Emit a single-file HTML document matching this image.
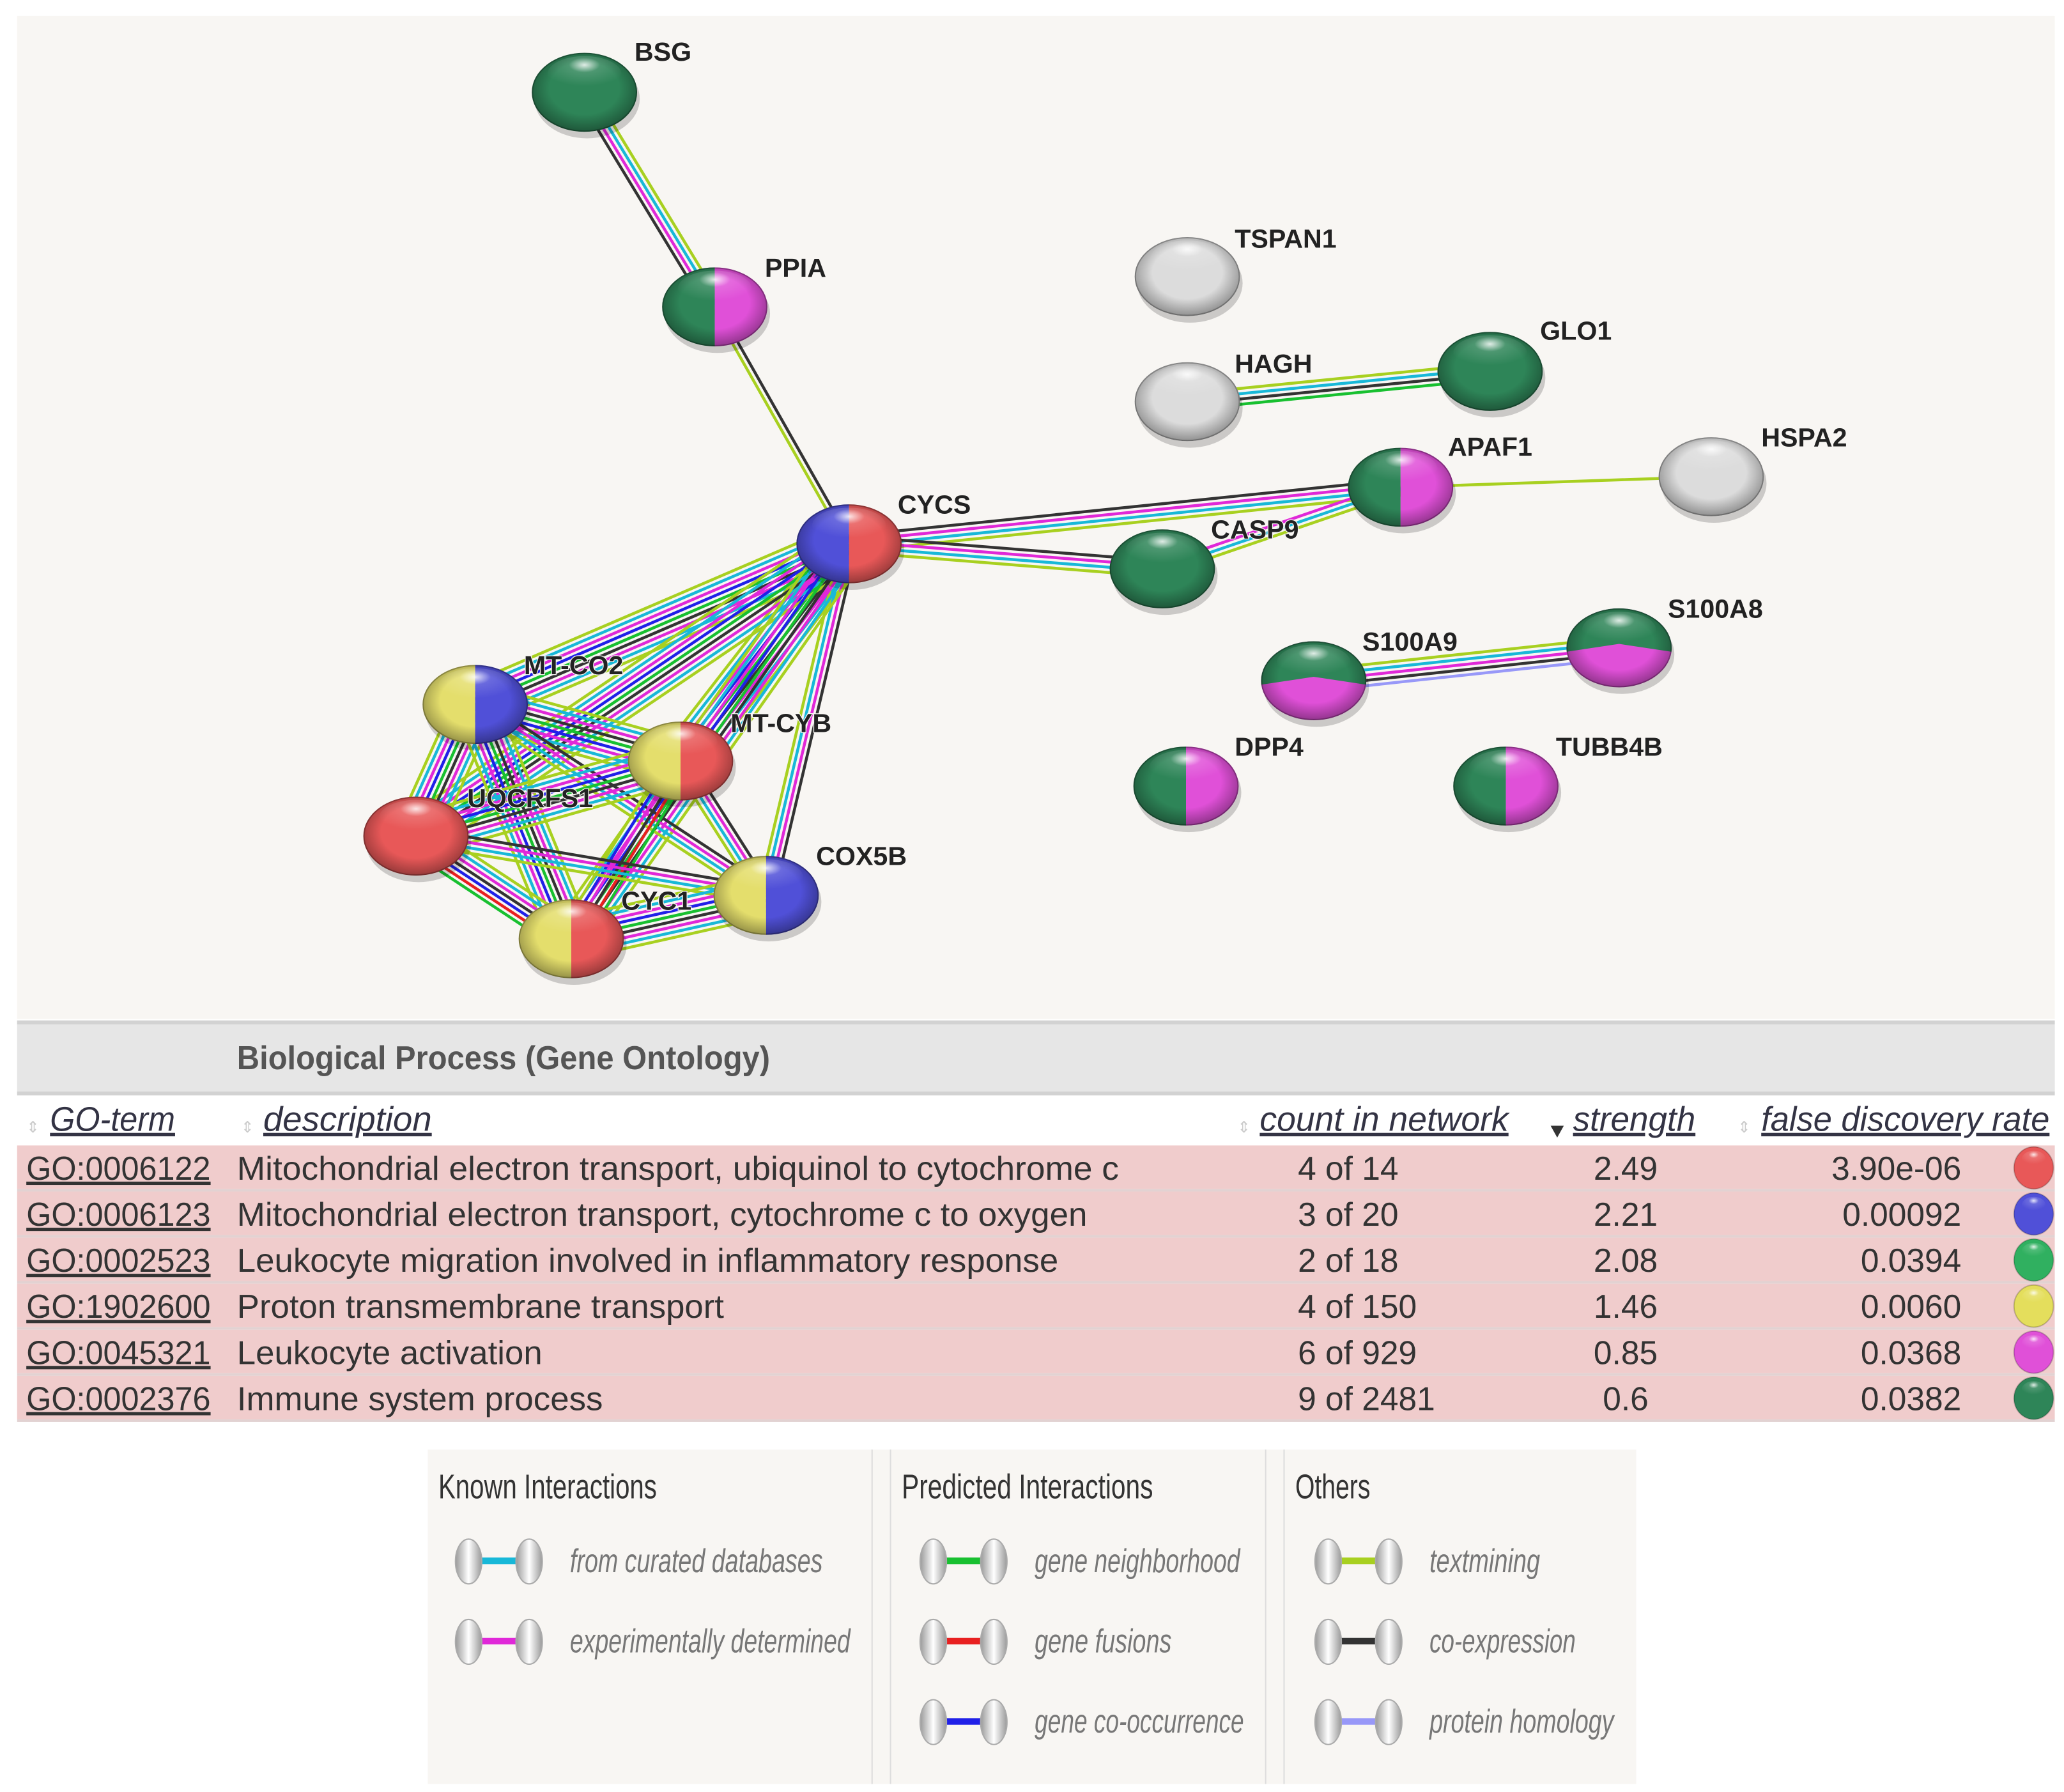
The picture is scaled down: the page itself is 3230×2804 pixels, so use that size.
<!DOCTYPE html>
<html><head><meta charset="utf-8"><style>html,body{margin:0;padding:0;background:#fff}svg{display:block}</style></head>
<body>
<svg id="s" xmlns="http://www.w3.org/2000/svg" width="3230" height="2804" viewBox="0 0 1568 1361">
<defs>
<radialGradient id="gl" cx="0.5" cy="0.25" r="0.6">
<stop offset="0" stop-color="#fff" stop-opacity="0.85"/><stop offset="0.35" stop-color="#fff" stop-opacity="0.15"/><stop offset="1" stop-color="#fff" stop-opacity="0"/></radialGradient>
<radialGradient id="sh" cx="0.5" cy="0.45" r="0.55">
<stop offset="0.6" stop-color="#000" stop-opacity="0"/><stop offset="1" stop-color="#000" stop-opacity="0.35"/></radialGradient>
<linearGradient id="ball" x1="0" y1="0" x2="1" y2="0"><stop offset="0" stop-color="#999"/><stop offset="0.5" stop-color="#fff"/><stop offset="1" stop-color="#999"/></linearGradient>
</defs>
<rect x="0" y="0" width="1568" height="1361" fill="#fff"/>
<rect x="13" y="12" width="1548" height="762" fill="#f8f6f3"/>
<g id="edges"></g><g id="nodes"></g>
<g font-family="Liberation Sans, Arial, sans-serif" font-weight="bold" font-size="20" fill="#222" stroke="#f8f6f3" stroke-width="1.2" paint-order="stroke" id="labels"></g>
<!-- table -->
<rect x="13" y="776" width="1548" height="55" fill="#e6e6e6"/>
<rect x="13" y="775" width="1548" height="3" fill="#d2d2d2"/>
<rect x="13" y="829" width="1548" height="3" fill="#d2d2d2"/>
<text x="180" y="812" font-family="Liberation Sans, sans-serif" font-weight="bold" font-size="25" fill="#555" textLength="405" lengthAdjust="spacingAndGlyphs">Biological Process (Gene Ontology)</text>
<g font-family="Liberation Sans, sans-serif" font-style="italic" font-size="26" fill="#334" text-decoration="underline">
<text x="38" y="859" textLength="95" lengthAdjust="spacingAndGlyphs">GO-term</text>
<text x="200" y="859" textLength="128" lengthAdjust="spacingAndGlyphs">description</text>
<text x="957" y="859" textLength="189" lengthAdjust="spacingAndGlyphs">count in network</text>
<text x="1195" y="859" textLength="93" lengthAdjust="spacingAndGlyphs">strength</text>
<text x="1338" y="859" textLength="219" lengthAdjust="spacingAndGlyphs">false discovery rate</text>
</g>
<g fill="#ccc" font-size="12" font-family="Liberation Sans, sans-serif"><text x="20" y="860">⇕</text><text x="183" y="860">⇕</text><text x="940" y="860">⇕</text><text x="1320" y="860">⇕</text></g>
<polygon points="1178,855 1188,855 1183,864" fill="#333"/>
<g id="rows" font-family="Liberation Sans, sans-serif" font-size="25" fill="#333"></g>
<!-- legend -->
<rect x="325" y="1101" width="918" height="254" fill="#f8f6f3"/>
<rect x="662" y="1101" width="1" height="254" fill="#ddd"/><rect x="676" y="1101" width="1" height="254" fill="#ddd"/>
<rect x="961" y="1101" width="1" height="254" fill="#ddd"/><rect x="975" y="1101" width="1" height="254" fill="#ddd"/>
<g font-family="Liberation Sans, sans-serif" font-size="26" fill="#333">
<text x="333" y="1138" textLength="166" lengthAdjust="spacingAndGlyphs">Known Interactions</text>
<text x="685" y="1138" textLength="191" lengthAdjust="spacingAndGlyphs">Predicted Interactions</text>
<text x="984" y="1138" textLength="57" lengthAdjust="spacingAndGlyphs">Others</text>
</g>
<g id="leg" font-family="Liberation Sans, sans-serif" font-style="italic" font-size="25" fill="#777"></g>
</svg>
<script>
var NS="http://www.w3.org/2000/svg";
function el(t,a,p){var e=document.createElementNS(NS,t);for(var k in a)e.setAttribute(k,a[k]);p.appendChild(e);return e;}
var C={cu:"#18b8d8",ex:"#e028d8",ne:"#18c030",fu:"#e82020",co:"#2020e8",tm:"#a8d020",cx:"#333",ho:"#9898f8"};
var N={BSG:[444,70,"g"],PPIA:[543,233,"gm"],TSPAN1:[902,210,"w"],HAGH:[902,305,"w"],GLO1:[1132,282,"g"],APAF1:[1064,370,"gm"],HSPA2:[1300,362,"w"],CYCS:[645,413,"br"],CASP9:[883,432,"g"],S100A9:[998,517,"tgm"],S100A8:[1230,492,"tgm"],DPP4:[901,597,"gm"],TUBB4B:[1144,597,"gm"],"MT-CO2":[361,535,"yb"],"MT-CYB":[517,578,"yr"],UQCRFS1:[316,635,"r"],COX5B:[582,680,"yb"],CYC1:[434,713,"yr"]};
var LB={BSG:[482,42],PPIA:[581,206],TSPAN1:[938,184],HAGH:[938,279],GLO1:[1170,254],APAF1:[1100,342],HSPA2:[1338,335],CYCS:[682,386],CASP9:[920,405],S100A9:[1035,490],S100A8:[1267,465],DPP4:[938,570],TUBB4B:[1182,570],"MT-CO2":[398,508],"MT-CYB":[555,552],UQCRFS1:[355,609],COX5B:[620,653],CYC1:[472,687]};
var E=[["BSG","PPIA","tm cu ex cx"],["PPIA","CYCS","cx tm"],["CYCS","APAF1","cx ex cu tm"],["CYCS","CASP9","cx ex cu tm"],["CASP9","APAF1","ex cu tm"],["APAF1","HSPA2","tm"],["HAGH","GLO1","tm cu cx ne"],["S100A9","S100A8","tm cu ex cx ho"]];
var cl=["CYCS","MT-CO2","MT-CYB","UQCRFS1","COX5B","CYC1"];
var big="tm cu ex cx ne co ex cu tm";
for(var i=0;i<cl.length;i++)for(var j=i+1;j<cl.length;j++){var s=big;if(cl[i]=="CYCS"&&cl[j]=="COX5B")s="cx ex cu tm";if(cl[i]=="MT-CYB"&&cl[j]=="CYC1")s="ne fu cx ex co tm";if(cl[j]=="COX5B"&&cl[i]!="CYCS")s="cx ex cu tm";if(cl[i]=="UQCRFS1"&&cl[j]=="CYC1")s="tm cu ex cx co fu ne";E.push([cl[i],cl[j],s]);}
var eg=document.getElementById("edges");
E.forEach(function(e){var a=N[e[0]],b=N[e[1]],cs=e[2].split(" ");var dx=b[0]-a[0],dy=b[1]-a[1],L=Math.hypot(dx,dy),nx=-dy/L,ny=dx/L,g=4;
cs.forEach(function(c,k){var o=(k-(cs.length-1)/2)*g;el("line",{x1:a[0]+nx*o,y1:a[1]+ny*o,x2:b[0]+nx*o,y2:b[1]+ny*o,stroke:C[c],"stroke-width":2.2},eg);});});
var col={g:"#2e8558",m:"#e050d8",w:"#dcdcdc",b:"#5050d8",r:"#e85858",y:"#e4de6c"};
var ng=document.getElementById("nodes"),lg=document.getElementById("labels"),id=0;
for(var k in N){var n=N[k],x=n[0],y=n[1],rx=40,ry=30,t=n[2];id++;
var cp=el("clipPath",{id:"c"+id},ng);el("ellipse",{cx:x,cy:y,rx:rx,ry:ry},cp);
el("ellipse",{cx:x+2,cy:y+5,rx:rx,ry:ry,fill:"#000",opacity:0.18},ng);
var gg=el("g",{"clip-path":"url(#c"+id+")"},ng);
if(t.length==1)el("rect",{x:x-rx,y:y-ry,width:2*rx,height:2*ry,fill:col[t]},gg);
else if(t[0]=="t"){el("rect",{x:x-rx,y:y-ry,width:2*rx,height:2*ry,fill:col.m},gg);el("polygon",{points:(x-rx)+","+(y-ry)+" "+(x+rx)+","+(y-ry)+" "+(x+rx)+","+(y+3)+" "+x+","+(y-3)+" "+(x-rx)+","+(y+3)},gg).setAttribute("fill",col.g);}
else{el("rect",{x:x-rx,y:y-ry,width:rx,height:2*ry,fill:col[t[0]]},gg);el("rect",{x:x,y:y-ry,width:rx,height:2*ry,fill:col[t[1]]},gg);}
el("ellipse",{cx:x,cy:y,rx:rx,ry:ry,fill:"url(#sh)"},gg);
el("ellipse",{cx:x,cy:y-14,rx:rx*0.7,ry:ry*0.45,fill:"url(#gl)"},gg);
el("ellipse",{cx:x,cy:y,rx:rx-0.5,ry:ry-0.5,fill:"none",stroke:"#000","stroke-opacity":0.25,"stroke-width":1},ng);
var tx=el("text",{x:LB[k][0],y:LB[k][1]+4},lg);tx.textContent=k;}
var R=[["GO:0006122","Mitochondrial electron transport, ubiquinol to cytochrome c","4 of 14","2.49","3.90e-06","#e85858",670],
["GO:0006123","Mitochondrial electron transport, cytochrome c to oxygen","3 of 20","2.21","0.00092","#5050d8",646],
["GO:0002523","Leukocyte migration involved in inflammatory response","2 of 18","2.08","0.0394","#30b060",624],
["GO:1902600","Proton transmembrane transport","4 of 150","1.46","0.0060","#e4de5c",370],
["GO:0045321","Leukocyte activation","6 of 929","0.85","0.0368","#e050d8",232],
["GO:0002376","Immune system process","9 of 2481","0.6","0.0382","#2e8558",278]];
var rg=document.getElementById("rows");
R.forEach(function(r,i){var y0=870+i*35;el("rect",{x:13,y:y0,width:1548,height:33,fill:"#f0cccc"},rg);el("rect",{x:13,y:y0+33,width:1548,height:2,fill:"#e2d2d2"},rg);
var b=y0+26;
el("text",{x:20,y:b,textLength:140,lengthAdjust:"spacingAndGlyphs","text-decoration":"underline"},rg).textContent=r[0];
el("text",{x:180,y:b,textLength:r[6],lengthAdjust:"spacingAndGlyphs"},rg).textContent=r[1];
el("text",{x:986,y:b},rg).textContent=r[2];
el("text",{x:1235,y:b,"text-anchor":"middle"},rg).textContent=r[3];
el("text",{x:1490,y:b,"text-anchor":"end"},rg).textContent=r[4];
el("ellipse",{cx:1545,cy:y0+17,rx:15,ry:16,fill:r[5],stroke:"#0003"},rg);el("ellipse",{cx:1545,cy:y0+10,rx:9,ry:6,fill:"url(#gl)"},rg);});
var L=[[345,1186,"cu","from curated databases",192],[345,1247,"ex","experimentally determined",213],[698,1186,"ne","gene neighborhood",156],[698,1247,"fu","gene fusions",104],[698,1308,"co","gene co-occurrence",159],[998,1186,"tm","textmining",84],[998,1247,"cx","co-expression",111],[998,1308,"ho","protein homology",140]];
var lgd=document.getElementById("leg");
L.forEach(function(l){var x=l[0],y=l[1];el("rect",{x:x+15,y:y-3,width:35,height:5,fill:C[l[2]]},lgd);
[x+11,x+57].forEach(function(cx){el("ellipse",{cx:cx,cy:y,rx:10,ry:17,fill:"url(#ball)",stroke:"#aaa"},lgd);});
el("text",{x:x+88,y:y+8,textLength:l[4],lengthAdjust:"spacingAndGlyphs"},lgd).textContent=l[3];});
</script>
</body></html>
